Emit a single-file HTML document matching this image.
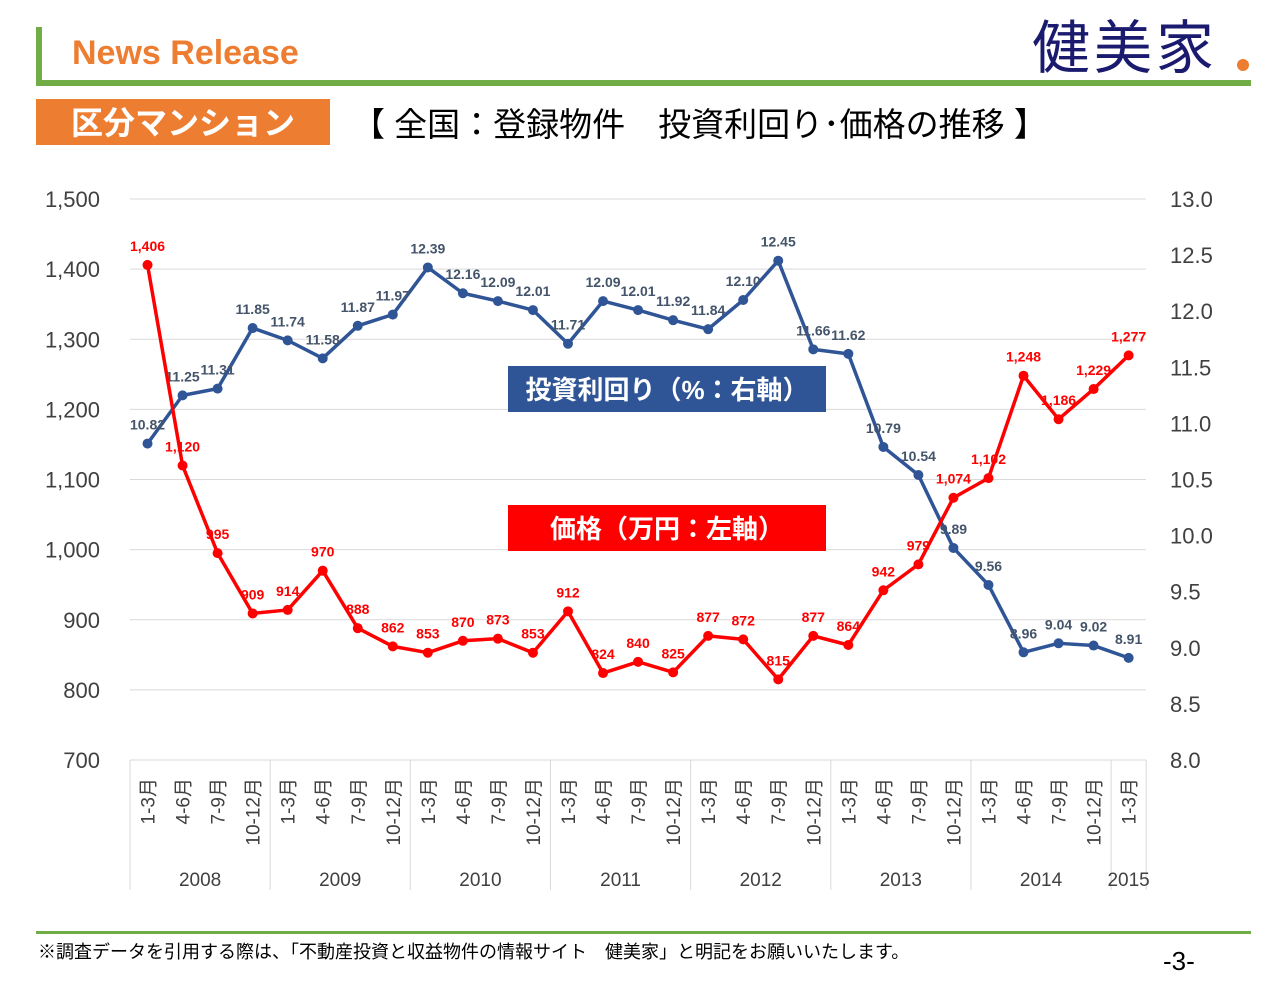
<!DOCTYPE html>
<html><head><meta charset="utf-8">
<style>
body{margin:0;background:#fff;}
svg{display:block;font-family:"Liberation Sans","Noto Sans CJK JP",sans-serif;}
</style></head>
<body>
<svg id="chart" width="1280" height="985" viewBox="0 0 1280 985">
<rect x="36" y="27" width="6" height="58" fill="#70ad47"/>
<rect x="36" y="80" width="1215" height="6" fill="#70ad47"/>
<text x="72" y="64" font-size="34" font-weight="bold" fill="#ed7d31">News Release</text>
<text x="1032" y="68" font-size="58" letter-spacing="4" fill="#1a1a6e" font-family="Noto Sans CJK JP, sans-serif">健美家</text>
<circle cx="1243" cy="65" r="6" fill="#ed7d31"/>
<rect x="36" y="99" width="294" height="46" fill="#ed7d31"/>
<text x="183" y="134" font-size="32" font-weight="bold" fill="#fff" text-anchor="middle">区分マンション</text>
<text x="352" y="136" font-size="33" fill="#000">【 全国：登録物件　投資利回り･価格の推移 】</text>
<g id="grid"></g>
<g id="axes"></g>
<rect x="508" y="366" width="318" height="46" fill="#2f5597"/>
<text x="667" y="399" font-size="26" font-weight="bold" fill="#fff" text-anchor="middle">投資利回り（%：右軸）</text>
<rect x="508" y="505" width="318" height="46" fill="#ff0000"/>
<text x="667" y="538" font-size="26" font-weight="bold" fill="#fff" text-anchor="middle">価格（万円：左軸）</text>
<g id="series"></g>
<rect x="36" y="931" width="1215" height="3" fill="#70ad47"/>
<text x="38" y="958" font-size="18" fill="#000">※調査データを引用する際は、「不動産投資と収益物件の情報サイト　健美家」と明記をお願いいたします。</text>
<text x="1163" y="970" font-size="26" fill="#000">-3-</text>
</svg>
<script>
const quarters=["1-3月","4-6月","7-9月","10-12月"];
const years=["2008","2009","2010","2011","2012","2013","2014","2015"];
const prices=[1406,1120,995,909,914,970,888,862,853,870,873,853,912,824,840,825,877,872,815,877,864,942,979,1074,1102,1248,1186,1229,1277];
const yields=[10.82,11.25,11.31,11.85,11.74,11.58,11.87,11.97,12.39,12.16,12.09,12.01,11.71,12.09,12.01,11.92,11.84,12.10,12.45,11.66,11.62,10.79,10.54,9.89,9.56,8.96,9.04,9.02,8.91];
const leftTicks=[700,800,900,1000,1100,1200,1300,1400,1500];
const rightTicks=[8.0,8.5,9.0,9.5,10.0,10.5,11.0,11.5,12.0,12.5,13.0];
const NS="http://www.w3.org/2000/svg";
const X0=130,BW=35.04,YT=199,YB=760;
const xs=i=>X0+BW*(i+0.5);
const yL=v=>YB-(v-700)/800*(YB-YT);
const yR=v=>YB-(v-8)/5*(YB-YT);
function mk(tag,attrs,parent,txt){const e=document.createElementNS(NS,tag);for(const k in attrs)e.setAttribute(k,attrs[k]);if(txt!=null)e.textContent=txt;parent.appendChild(e);return e;}
const grid=document.getElementById('grid'),axes=document.getElementById('axes'),ser=document.getElementById('series');
leftTicks.forEach(v=>{
  const l=mk('line',{x1:X0,x2:1146,y1:yL(v),y2:yL(v),stroke:'#d9d9d9','stroke-width':1},grid);
  
  
  const t=mk('text',{x:100,y:yL(v)+8,'font-size':22,fill:'#404040','text-anchor':'end'},axes,v.toLocaleString('en-US'));
  
  
});
rightTicks.forEach(v=>{
  const t=mk('text',{x:1170,y:yR(v)+8,'font-size':22,fill:'#404040'},axes,v.toFixed(1));
  
  
});
const n=prices.length;
for(let i=0;i<n;i++){
  const t=mk('text',{transform:`translate(${xs(i)+7},778) rotate(-90)`,'font-size':19,fill:'#404040','text-anchor':'end'},axes,quarters[i%4]);
  
  
}
years.forEach((y,k)=>{
  const start=k*4,end=Math.min(k*4+4,n);
  const xa=X0+BW*start,xb=X0+BW*end;
  const l=mk('line',{x1:xa,x2:xa,y1:YB,y2:890,stroke:'#d9d9d9'},grid);
  
  
  const t=mk('text',{x:(xa+xb)/2,y:886,'font-size':19,fill:'#404040','text-anchor':'middle'},axes,y);
  
  
});
const lastX=X0+BW*n;
const ls=mk('line',{x1:lastX,x2:lastX,y1:YB,y2:890,stroke:'#d9d9d9'},grid);


function drawSeries(vals,yf,color,labelColor,name,fmt){
  const pts=vals.map((v,i)=>xs(i)+','+yf(v)).join(' ');
  const pl=mk('polyline',{points:pts,fill:'none',stroke:color,'stroke-width':3.5,'stroke-linejoin':'round'},ser);
  
  
  vals.forEach((v,i)=>{
    const c=mk('circle',{cx:xs(i),cy:yf(v),r:5,fill:color},ser);
    
    
    const t=mk('text',{x:xs(i),y:yf(v)-14,'font-size':14,'font-weight':'bold',fill:labelColor,'text-anchor':'middle'},ser,fmt(v));
    
    
  });
}
drawSeries(yields,yR,'#2f5597','#44546a','yield',v=>v.toFixed(2));
drawSeries(prices,yL,'#ff0000','#ff0000','price',v=>v.toLocaleString('en-US'));
</script>
</body></html>
